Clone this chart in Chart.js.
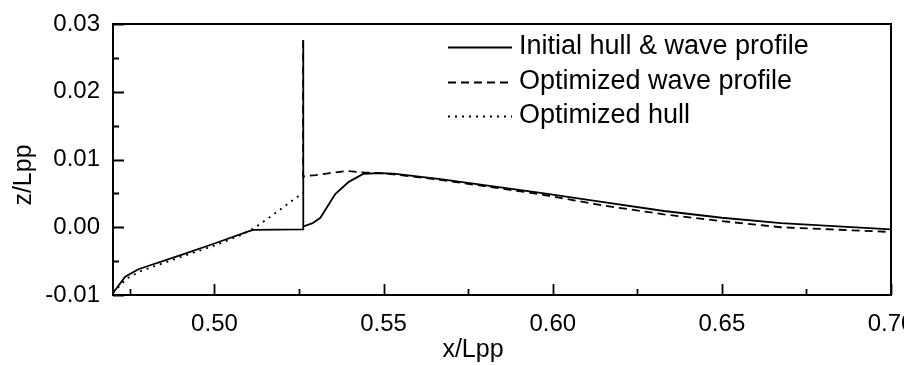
<!DOCTYPE html>
<html>
<head>
<meta charset="utf-8">
<title>Wave profile</title>
<script src="https://cdn.jsdelivr.net/npm/chart.js@4.4.1/dist/chart.umd.min.js"></script>
<style>
  html, body { margin: 0; padding: 0; background: #fff; }
  #wrap { width: 904px; height: 365px; }
</style>
</head>
<body>
<div id="wrap"><canvas id="profile" width="904" height="365"></canvas></div>
<script>
// Axis ticks
const xTicks = [0.50, 0.55, 0.60, 0.65, 0.70];
const xMinorTicks = [0.475, 0.525, 0.575, 0.625, 0.675];
const yTicks = [-0.01, 0.00, 0.01, 0.02, 0.03];
const yMinorTicks = [-0.005, 0.005, 0.015, 0.025];

// Initial hull & wave profile (solid)
const xInitial = [0.470, 0.4736, 0.4775, 0.490, 0.500, 0.510, 0.5115, 0.5262, 0.5262, 0.5263, 0.5290, 0.5313, 0.5357, 0.5397, 0.5441, 0.5490, 0.5529, 0.5668, 0.5959, 0.6150, 0.6329, 0.6500, 0.6675, 0.7000];
const zInitial = [-0.0097, -0.0073, -0.0062, -0.0041, -0.0024, -0.0006, -0.0004, -0.0003, 0.0276, 0.0001, 0.0006, 0.0014, 0.0049, 0.0067, 0.0079, 0.0080, 0.0079, 0.0071, 0.0051, 0.0037, 0.0024, 0.0014, 0.0006, -0.0003];

// Optimized wave profile (dashed)
const xWave = [0.5262, 0.5262, 0.5300, 0.5342, 0.5392, 0.5440, 0.5490, 0.5529, 0.5668, 0.5959, 0.6150, 0.6329, 0.6500, 0.6675, 0.7000];
const zWave = [0.0276, 0.0075, 0.0077, 0.0080, 0.0083, 0.0081, 0.0080, 0.0078, 0.0070, 0.0049, 0.0032, 0.0019, 0.0009, 0.0000, -0.0007];

// Optimized hull (dotted)
const xHull = [0.470, 0.474, 0.478, 0.490, 0.500, 0.5076, 0.5115, 0.5175, 0.5229, 0.5262];
const zHull = [-0.0097, -0.0076, -0.0065, -0.0044, -0.0027, -0.0012, -0.0002, 0.0019, 0.0039, 0.0051];

const seriesLabels = ['Initial hull & wave profile', 'Optimized wave profile', 'Optimized hull'];

const FONT = "'Liberation Sans', Arial, sans-serif";

function toPoints(xs, zs) {
  return xs.map((x, i) => ({ x: x, y: zs[i] }));
}

// frame, inward ticks, axis titles and legend
const decorPlugin = {
  id: 'decor',
  afterDatasetsDraw(chart) {
    const ctx = chart.ctx;
    const a = chart.chartArea;
    const sx = chart.scales.x;
    const sy = chart.scales.y;
    ctx.save();
    ctx.strokeStyle = '#000';
    ctx.lineWidth = 2;
    ctx.strokeRect(a.left, a.top, a.right - a.left, a.bottom - a.top);

    ctx.lineWidth = 1.8;
    ctx.beginPath();
    xTicks.forEach(v => {
      const px = Math.round(sx.getPixelForValue(v)) + 0.5;
      ctx.moveTo(px, a.bottom); ctx.lineTo(px, a.bottom - 11);
    });
    xMinorTicks.forEach(v => {
      const px = Math.round(sx.getPixelForValue(v)) + 0.5;
      ctx.moveTo(px, a.bottom); ctx.lineTo(px, a.bottom - 6);
    });
    yTicks.forEach(v => {
      const py = Math.round(sy.getPixelForValue(v)) + 0.5;
      ctx.moveTo(a.left, py); ctx.lineTo(a.left + 11, py);
    });
    yMinorTicks.forEach(v => {
      const py = Math.round(sy.getPixelForValue(v)) + 0.5;
      ctx.moveTo(a.left, py); ctx.lineTo(a.left + 6, py);
    });
    ctx.stroke();

    // axis titles
    ctx.fillStyle = '#000';
    ctx.font = '25px ' + FONT;
    ctx.textAlign = 'center';
    ctx.textBaseline = 'middle';
    ctx.fillText('x/Lpp', 473, 350);
    ctx.save();
    ctx.translate(24, 175);
    ctx.rotate(-Math.PI / 2);
    ctx.fillText('z/Lpp', 0, 0);
    ctx.restore();

    // legend
    const rows = [47, 82, 116];
    ctx.font = '27px ' + FONT;
    ctx.textAlign = 'left';
    chart.data.datasets.forEach((ds, i) => {
      ctx.setLineDash(ds.borderDash || []);
      ctx.lineWidth = ds.borderWidth;
      ctx.beginPath();
      ctx.moveTo(448, rows[i] + 0.5);
      ctx.lineTo(512, rows[i] + 0.5);
      ctx.stroke();
      ctx.setLineDash([]);
      ctx.fillText(ds.label, 519, rows[i]);
    });
    ctx.restore();
  }
};

new Chart(document.getElementById('profile'), {
  type: 'scatter',
  data: {
    datasets: [
      { label: seriesLabels[0], data: toPoints(xInitial, zInitial), showLine: true, borderColor: '#000', borderWidth: 1.8, pointRadius: 0, tension: 0 },
      { label: seriesLabels[1], data: toPoints(xWave, zWave), showLine: true, borderColor: '#000', borderWidth: 1.8, borderDash: [8, 5], pointRadius: 0, tension: 0 },
      { label: seriesLabels[2], data: toPoints(xHull, zHull), showLine: true, borderColor: '#000', borderWidth: 1.8, borderDash: [2, 5], pointRadius: 0, tension: 0 }
    ]
  },
  options: {
    responsive: false,
    animation: false,
    layout: { padding: { top: 24, right: 13, left: 0, bottom: 0 } },
    plugins: { legend: { display: false }, tooltip: { enabled: false } },
    scales: {
      x: {
        type: 'linear',
        min: 0.47,
        max: 0.70,
        afterBuildTicks: s => { s.ticks = xTicks.map(v => ({ value: v })); },
        afterFit: s => { s.height = 70; s.paddingLeft = 0; s.paddingRight = 0; },
        grid: { display: false, drawTicks: false },
        border: { display: false },
        ticks: {
          color: '#000',
          font: { family: FONT, size: 24 },
          padding: 15,
          maxRotation: 0,
          autoSkip: false,
          callback: v => v.toFixed(2)
        }
      },
      y: {
        min: -0.01,
        max: 0.03,
        afterBuildTicks: s => { s.ticks = yTicks.map(v => ({ value: v })); },
        afterFit: s => { s.width = 113; s.paddingTop = 0; s.paddingBottom = 0; },
        grid: { display: false, drawTicks: false },
        border: { display: false },
        ticks: {
          color: '#000',
          font: { family: FONT, size: 24 },
          padding: 13,
          autoSkip: false,
          callback: v => v.toFixed(2)
        }
      }
    }
  },
  plugins: [decorPlugin]
});
</script>
</body>
</html>
